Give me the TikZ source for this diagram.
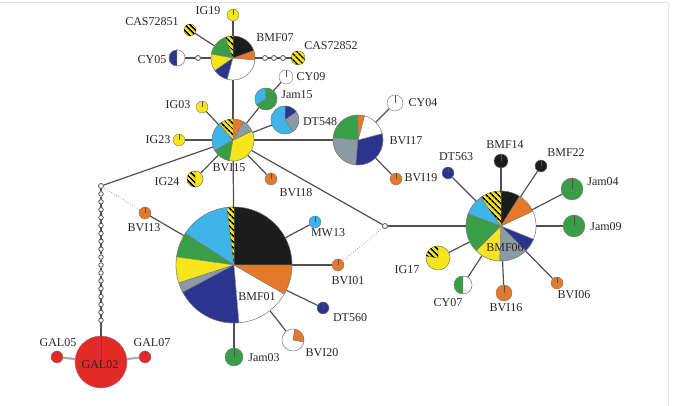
\documentclass[tikz,border=0pt]{standalone}
\usepackage{fontspec}
\setmainfont{Liberation Serif}
\usetikzlibrary{patterns.meta}
\definecolor{hgreen}{HTML}{3A9E48}
\definecolor{hblue}{HTML}{3FB4E8}
\definecolor{hnavy}{HTML}{2B3590}
\definecolor{hyellow}{HTML}{F5E51B}
\definecolor{horange}{HTML}{E5792A}
\definecolor{hgrey}{HTML}{8C9BA3}
\definecolor{hblack}{HTML}{1C1C1C}
\definecolor{hred}{HTML}{E42A27}
\definecolor{edge}{HTML}{7A7A7A}
\definecolor{linec}{HTML}{505050}
\tikzset{
  stripes/.style={pattern={Lines[angle=-45,distance=4pt,line width=1.6pt]}, pattern color=black},
  hap/.style={circle, inner sep=0pt, draw=edge, line width=0.4pt},
  mono/.style={hap, fill=#1, path picture={\draw[linec, line width=0.5pt]
      (path picture bounding box.center) -- (path picture bounding box.north);}},
  hatchmono/.style={hap, fill=hyellow, postaction={stripes}},
  med/.style={circle, inner sep=0pt, draw=linec, fill=white, line width=0.8pt, minimum size=5pt},
  link/.style={draw=linec, line width=1.2pt},
  dotlink/.style={draw=gray, line width=0.7pt, dotted},
  gallink/.style={draw=gray!70, line width=2pt},
  lbl/.style={font=\fontsize{12}{14}\selectfont, text=black!85, inner sep=0pt}
}
\newcommand{\slc}[5]{\filldraw[draw=edge, line width=0.4pt, fill=#5]
  (#1.center) -- ++(#3:#2pt) arc (#3:#4:#2pt) -- cycle;}
\newcommand{\hslc}[4]{\filldraw[draw=edge, line width=0.4pt, fill=hyellow, postaction={stripes}]
  (#1.center) -- ++(#3:#2pt) arc (#3:#4:#2pt) -- cycle;}

\begin{document}
\begin{tikzpicture}[x=1pt, y=1pt]
  \useasboundingbox (0,0) rectangle (686,406);
  \draw [gray!20] (0,404) -- (668,404) -- (668,0);

  % haplotypes
  \node [hap, minimum size=44pt, name=bmf07] at (233,348) {};
  \node [mono=hyellow, minimum size=12pt, name=ig19] at (233,391) {};
  \node [hatchmono, minimum size=12pt, name=cas72851] at (190,376) {};
  \node [hap, minimum size=16pt, name=cy05] at (177,348) {};
  \node [med, name=m05] at (198,348) {};
  \node [med, name=k1] at (265,348) {};
  \node [med, name=k2] at (274,348) {};
  \node [med, name=k3] at (283,348) {};
  \node [hatchmono, minimum size=14pt, name=cas72852] at (298,348) {};

  \node [hap, minimum size=42pt, name=bvi15] at (233,266) {};
  \node [mono=hyellow, minimum size=12pt, name=ig03] at (202,299) {};
  \node [mono=hyellow, minimum size=12pt, name=ig23] at (179,266) {};
  \node [hap, minimum size=16pt, name=ig24] at (195,227) {};
  \node [mono=horange, minimum size=12pt, name=bvi18] at (271,227) {};
  \node [hap, minimum size=22pt, name=jam15] at (266,307) {};
  \node [mono=white, minimum size=14pt, name=cy09] at (286,329) {};
  \node [hap, minimum size=28pt, name=dt548] at (285,286) {};

  \node [hap, minimum size=50pt, name=bvi17] at (358,266) {};
  \node [mono=white, minimum size=16pt, name=cy04] at (395,303) {};
  \node [mono=horange, minimum size=12pt, name=bvi19] at (396,227) {};

  \node [med, name=m1] at (101,220) {};
  \node [mono=horange, minimum size=12pt, name=bvi13] at (145,193) {};

  \node [hap, minimum size=116pt, name=bmf01] at (234,141) {};
  \node [mono=hblue, minimum size=12pt, name=mw13] at (315,184) {};
  \node [mono=horange, minimum size=12pt, name=bvi01] at (338,141) {};
  \node [mono=hnavy, minimum size=12pt, name=dt560] at (323,98) {};
  \node [hap, minimum size=22pt, name=bvi20] at (293,66) {};
  \node [mono=hgreen, minimum size=18pt, name=jam03] at (234,49) {};

  \node [med, name=m2] at (385,180) {};
  \node [hap, minimum size=70pt, name=bmf06] at (501,180) {};
  \node [mono=hnavy, minimum size=12pt, name=dt563] at (448,233) {};
  \node [mono=hblack, minimum size=14pt, name=bmf14] at (501,245) {};
  \node [mono=hblack, minimum size=12pt, name=bmf22] at (541,240) {};
  \node [mono=hgreen, minimum size=22pt, name=jam04] at (572,217) {};
  \node [mono=hgreen, minimum size=22pt, name=jam09] at (574,180) {};
  \node [mono=horange, minimum size=12pt, name=bvi06] at (557,123) {};
  \node [mono=horange, minimum size=16pt, name=bvi16] at (504,113) {};
  \node [hap, minimum size=18pt, name=cy07] at (463,121) {};
  \node [hap, minimum size=24pt, name=ig17] at (438,148) {};

  \node [mono=hred, minimum size=52pt, name=gal02] at (101,44) {};
  \node [mono=hred, minimum size=12pt, name=gal05] at (57,49) {};
  \node [mono=hred, minimum size=12pt, name=gal07] at (145,49) {};
  \foreach \i in {1,...,17}
    \node [med, minimum size=4.5pt, name=c\i] at (101,220-\i*7.9) {};

  % links
  \draw [link] (bmf07) -- (ig19);
  \draw [link] (bmf07) -- (cas72851);
  \draw [link] (cy05) -- (m05);
  \draw [link] (m05) -- (bmf07);
  \draw [link] (bmf07) -- (k1);
  \draw [link] (k1) -- (k2);
  \draw [link] (k2) -- (k3);
  \draw [link] (k3) -- (cas72852);
  \draw [link] (bmf07) -- (bvi15);
  \foreach \n in {ig03,ig23,ig24,bvi18,jam15,dt548,bvi17,m1,m2,bmf01}
    \draw [link] (bvi15) -- (\n);
  \draw [link] (jam15) -- (cy09);
  \draw [link] (bvi17) -- (cy04);
  \draw [link] (bvi17) -- (bvi19);
  \foreach \n in {bvi13,mw13,bvi01,dt560,bvi20,jam03}
    \draw [link] (bmf01) -- (\n);
  \draw [dotlink] (bvi13) -- (m1);
  \draw [dotlink] (bvi01) -- (m2);
  \draw [link] (m2) -- (bmf06);
  \foreach \n in {dt563,bmf14,bmf22,jam04,jam09,bvi06,bvi16,cy07,ig17}
    \draw [link] (bmf06) -- (\n);
  \draw [link] (m1) -- (c1);
  \foreach \i [count=\j from 2] in {1,...,16}
    \draw [link] (c\i) -- (c\j);
  \draw [link] (c17) -- (gal02);
  \draw [gallink] (gal05) -- (gal02);
  \draw [gallink] (gal02) -- (gal07);

  % pies
  \foreach \a/\b/\c in {110/170/hgreen, 170/215/hyellow, 215/255/hnavy, 255/355/white, -5/20/horange, 20/90/hblack}
    \slc{bmf07}{22}{\a}{\b}{\c};
  \hslc{bmf07}{22}{90}{110};
  \slc{cy05}{8}{90}{270}{hnavy};
  \slc{cy05}{8}{-90}{90}{white};

  \foreach \a/\b/\c in {130/210/hblue, 210/260/hgreen, 260/385/hyellow, 25/60/hgrey, 60/90/horange}
    \slc{bvi15}{21}{\a}{\b}{\c};
  \hslc{bvi15}{21}{90}{130};
  \slc{ig24}{8}{-90}{90}{hyellow};
  \hslc{ig24}{8}{90}{270};
  \slc{jam15}{11}{95}{210}{hblue};
  \slc{jam15}{11}{-150}{95}{hgreen};
  \foreach \a/\b/\c in {35/90/hnavy, -55/35/hgrey, 90/305/hblue}
    \slc{dt548}{14}{\a}{\b}{\c};

  \foreach \a/\b/\c in {90/175/hgreen, 175/265/hgrey, -95/15/hnavy, 15/75/white, 75/90/horange}
    \slc{bvi17}{25}{\a}{\b}{\c};

  \foreach \a/\b/\c in {0/90/hblack, 97/147/hblue, 147/172/hgreen, 172/198/hyellow, 198/208/hgrey,
      208/275/hnavy, 275/330/white, 330/360/horange}
    \slc{bmf01}{58}{\a}{\b}{\c};
  \hslc{bmf01}{58}{90}{97};
  \slc{bvi20}{11}{80}{350}{white};
  \slc{bvi20}{11}{-10}{80}{horange};

  \foreach \a/\b/\c in {58/90/hblack, 125/160/hblue, 160/225/hgreen, 225/268/hyellow, 268/315/hgrey,
      315/338/hnavy, 338/385/white, 25/58/horange}
    \slc{bmf06}{35}{\a}{\b}{\c};
  \hslc{bmf06}{35}{90}{125};
  \slc{cy07}{9}{90}{270}{hgreen};
  \slc{cy07}{9}{-90}{90}{white};
  \slc{ig17}{12}{170}{450}{hyellow};
  \hslc{ig17}{12}{90}{170};

  % labels
  \node [lbl, name=l-ig19] at (208,395) {IG19};
  \node [lbl, name=l-cas72851] at (152,384) {CAS72851};
  \node [lbl, name=l-cy05] at (152,346) {CY05};
  \node [lbl, name=l-bmf07] at (275,368) {BMF07};
  \node [lbl, name=l-cas72852] at (331,360) {CAS72852};
  \node [lbl, name=l-cy09] at (311,329) {CY09};
  \node [lbl, name=l-jam15] at (297,311) {Jam15};
  \node [lbl, name=l-ig03] at (178,301) {IG03};
  \node [lbl, name=l-ig23] at (158,266) {IG23};
  \node [lbl, name=l-dt548] at (320,284) {DT548};
  \node [lbl, name=l-ig24] at (167,224) {IG24};
  \node [lbl, name=l-bvi15] at (229,238) {BVI15};
  \node [lbl, name=l-bvi18] at (296,213) {BVI18};
  \node [lbl, name=l-cy04] at (423,303) {CY04};
  \node [lbl, name=l-bvi17] at (406,265) {BVI17};
  \node [lbl, name=l-bvi19] at (421,228) {BVI19};
  \node [lbl, name=l-bvi13] at (144,178) {BVI13};
  \node [lbl, name=l-mw13] at (328,173) {MW13};
  \node [lbl, name=l-bvi01] at (348,125) {BVI01};
  \node [lbl, name=l-dt560] at (350,88) {DT560};
  \node [lbl, name=l-bvi20] at (322,53) {BVI20};
  \node [lbl, name=l-jam03] at (264,48) {Jam03};
  \node [lbl, name=l-bmf01] at (257,109) {BMF01};
  \node [lbl, name=l-dt563] at (456,249) {DT563};
  \node [lbl, name=l-bmf14] at (505,261) {BMF14};
  \node [lbl, name=l-bmf22] at (566,253) {BMF22};
  \node [lbl, name=l-jam04] at (603,224) {Jam04};
  \node [lbl, name=l-jam09] at (606,179) {Jam09};
  \node [lbl, name=l-bvi06] at (574,111) {BVI06};
  \node [lbl, name=l-bvi16] at (506,98) {BVI16};
  \node [lbl, name=l-cy07] at (448,103) {CY07};
  \node [lbl, name=l-ig17] at (407,136) {IG17};
  \node [lbl, name=l-bmf06] at (505,158) {BMF06};
  \node [lbl, name=l-gal05] at (58,63) {GAL05};
  \node [lbl, name=l-gal07] at (152,63) {GAL07};
  \node [lbl, name=l-gal02] at (100,41) {GAL02};
\end{tikzpicture}
\end{document}
